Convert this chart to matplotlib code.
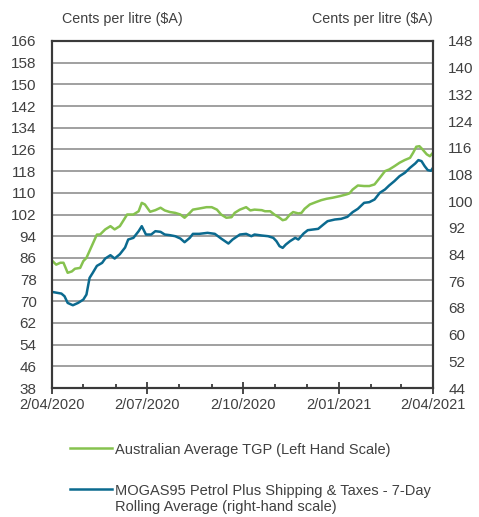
import pandas as pd
import matplotlib.pyplot as plt
import matplotlib.dates as mdates
from matplotlib.offsetbox import HPacker

plt.rcParams['font.family'] = ['Liberation Sans', 'DejaVu Sans']

# Australian Average TGP (left-hand scale), cents per litre
tgp_dates = ['2020-04-02', '2020-04-06', '2020-04-10', '2020-04-13', '2020-04-17', '2020-04-21',
             '2020-04-24', '2020-04-29', '2020-05-02', '2020-05-05', '2020-05-10', '2020-05-15',
             '2020-05-18', '2020-05-23', '2020-05-28', '2020-06-01', '2020-06-06', '2020-06-13',
             '2020-06-19', '2020-06-24', '2020-06-27', '2020-06-30', '2020-07-05', '2020-07-10',
             '2020-07-15', '2020-07-19', '2020-07-24', '2020-07-29', '2020-08-03', '2020-08-07',
             '2020-08-12', '2020-08-15', '2020-08-21', '2020-08-28', '2020-09-02', '2020-09-07',
             '2020-09-11', '2020-09-16', '2020-09-21', '2020-09-24', '2020-09-29', '2020-10-05',
             '2020-10-09', '2020-10-13', '2020-10-20', '2020-10-23', '2020-10-28', '2020-11-01',
             '2020-11-06', '2020-11-09', '2020-11-12', '2020-11-16', '2020-11-19', '2020-11-24',
             '2020-11-27', '2020-11-30', '2020-12-05', '2020-12-11', '2020-12-16', '2020-12-21',
             '2020-12-27', '2021-01-03', '2021-01-09', '2021-01-12', '2021-01-15', '2021-01-20',
             '2021-01-26', '2021-01-31', '2021-02-05', '2021-02-10', '2021-02-15', '2021-02-19',
             '2021-02-24', '2021-03-01', '2021-03-06', '2021-03-11', '2021-03-14', '2021-03-17',
             '2021-03-20', '2021-03-23', '2021-03-27', '2021-03-30', '2021-04-02']
tgp_values = [85.0, 83.5, 84.2, 84.2, 80.5, 81.0,
              82.0, 82.3, 84.8, 86.0, 90.3, 94.6,
              94.6, 96.5, 97.7, 96.5, 97.7, 102.0,
              102.0, 103.2, 106.3, 105.7, 103.0, 103.6,
              104.5, 103.5, 102.9, 102.6, 102.0, 100.8,
              102.6, 103.8, 104.2, 104.7, 104.7, 103.8,
              102.0, 100.8, 101.0, 102.6, 103.8, 104.7,
              103.5, 103.8, 103.6, 103.2, 103.2, 102.0,
              100.8, 99.9, 100.2, 102.0, 102.9, 102.4,
              102.6, 104.1, 105.7, 106.6, 107.3, 107.8,
              108.2, 108.8, 109.4, 109.8, 111.2, 112.7,
              112.5, 112.5, 113.1, 115.5, 118.0, 118.6,
              119.8, 121.1, 122.1, 122.9, 124.8, 127.0,
              127.2, 126.0, 124.2, 123.5, 124.8]

# MOGAS95 plus shipping & taxes, 7-day rolling average (right-hand scale)
mogas_dates = ['2020-04-02', '2020-04-11', '2020-04-14', '2020-04-17', '2020-04-22', '2020-04-27',
               '2020-05-02', '2020-05-05', '2020-05-08', '2020-05-11', '2020-05-15', '2020-05-20',
               '2020-05-23', '2020-05-28', '2020-06-01', '2020-06-06', '2020-06-11', '2020-06-14',
               '2020-06-19', '2020-06-24', '2020-06-27', '2020-07-01', '2020-07-06', '2020-07-10',
               '2020-07-15', '2020-07-19', '2020-07-24', '2020-07-29', '2020-08-03', '2020-08-07',
               '2020-08-12', '2020-08-15', '2020-08-21', '2020-08-29', '2020-09-05', '2020-09-11',
               '2020-09-18', '2020-09-22', '2020-09-29', '2020-10-05', '2020-10-10', '2020-10-13',
               '2020-10-20', '2020-10-26', '2020-10-31', '2020-11-03', '2020-11-06', '2020-11-09',
               '2020-11-12', '2020-11-16', '2020-11-21', '2020-11-24', '2020-11-29', '2020-12-03',
               '2020-12-08', '2020-12-13', '2020-12-18', '2020-12-22', '2020-12-29', '2021-01-04',
               '2021-01-10', '2021-01-15', '2021-01-20', '2021-01-26', '2021-01-31', '2021-02-05',
               '2021-02-10', '2021-02-15', '2021-02-19', '2021-02-24', '2021-03-01', '2021-03-06',
               '2021-03-11', '2021-03-16', '2021-03-19', '2021-03-22', '2021-03-25', '2021-03-28',
               '2021-03-31', '2021-04-02']
mogas_values = [72.8, 72.3, 71.5, 69.5, 68.8, 69.5,
                70.5, 72.0, 77.0, 78.5, 80.6, 81.5,
                82.8, 83.8, 82.8, 84.1, 86.1, 88.5,
                89.0, 91.0, 92.5, 90.0, 90.0, 91.0,
                90.8, 90.0, 89.8, 89.5, 88.8, 87.7,
                89.0, 90.2, 90.2, 90.5, 90.2, 88.8,
                87.3, 88.5, 90.0, 90.2, 89.5, 90.0,
                89.7, 89.5, 89.0, 88.0, 86.5, 86.0,
                87.0, 88.0, 89.0, 88.5, 90.3, 91.3,
                91.5, 91.7, 93.0, 94.0, 94.5, 94.7,
                95.3, 96.7, 97.7, 99.5, 99.7, 100.5,
                102.5, 103.5, 104.7, 106.0, 107.5, 108.5,
                110.0, 111.3, 112.3, 112.0, 110.5, 109.3,
                109.1, 110.0]

left_ticks = list(range(38, 167, 8))
right_ticks = list(range(44, 149, 8))

tgp = pd.Series(tgp_values, index=pd.to_datetime(tgp_dates))
mogas = pd.Series(mogas_values, index=pd.to_datetime(mogas_dates))

green = '#86c24f'
blue = '#0b6a8f'
text_col = '#404040'
spine_col = '#3a3a3a'

fig = plt.figure(figsize=(4.79, 5.17), dpi=100)
ax = fig.add_axes([52 / 479, 1 - 388 / 517, 381 / 479, 347 / 517])
ax2 = ax.twinx()

l1, = ax.plot(tgp.index, tgp.values, color=green, lw=1.8,
              label='Australian Average TGP (Left Hand Scale)')
l2, = ax2.plot(mogas.index, mogas.values, color=blue, lw=1.8,
               label='MOGAS95 Petrol Plus Shipping & Taxes - 7-Day\nRolling Average (right-hand scale)')

# axes limits and ticks
ax.set_xlim(pd.Timestamp('2020-04-02'), pd.Timestamp('2021-04-02'))
ax.set_ylim(38, 166)
ax.set_yticks(left_ticks)
ax2.set_ylim(44, 148)
ax2.set_yticks(right_ticks)

ax.xaxis.set_major_locator(mdates.MonthLocator(bymonth=[1, 4, 7, 10], bymonthday=2))
ax.xaxis.set_minor_locator(mdates.MonthLocator(bymonthday=2))
ax.xaxis.set_major_formatter(mdates.DateFormatter('%-d/%m/%Y'))

ax.grid(axis='y', color='#a0a0a0', lw=1.4)
ax.set_axisbelow(True)

ax.tick_params(axis='y', length=0, pad=11, labelsize=11, labelcolor=text_col)
ax2.tick_params(axis='y', length=0, pad=11, labelsize=11, labelcolor=text_col)
ax.tick_params(axis='x', which='major', direction='inout', length=8, width=1.3,
               color=spine_col, pad=3, labelsize=10.5, labelcolor=text_col)
ax.tick_params(axis='x', which='minor', direction='in', length=3, width=1.3, color=spine_col)

for a in (ax, ax2):
    for s in a.spines.values():
        s.set_color(spine_col)
        s.set_linewidth(1.5)

# unit labels above axes
fig.text(62 / 479, 1 - 19 / 517, 'Cents per litre ($A)', fontsize=10.3, color=text_col,
         ha='left', va='center')
fig.text(433 / 479, 1 - 19 / 517, 'Cents per litre ($A)', fontsize=10.3, color=text_col,
         ha='right', va='center')

leg = fig.legend(handles=[l1, l2], loc='upper left', bbox_to_anchor=(64 / 479, 1 - 437 / 517),
                 frameon=False, fontsize=10.5, labelcolor=text_col, handlelength=2.9,
                 handletextpad=0.2, labelspacing=1.85, borderaxespad=0)
# put the legend line level with the first line of a wrapped label
for col in leg._legend_handle_box.get_children():
    for item in col.get_children():
        if isinstance(item, HPacker):
            item.align = 'top'

fig.savefig('out.png', dpi=100)
